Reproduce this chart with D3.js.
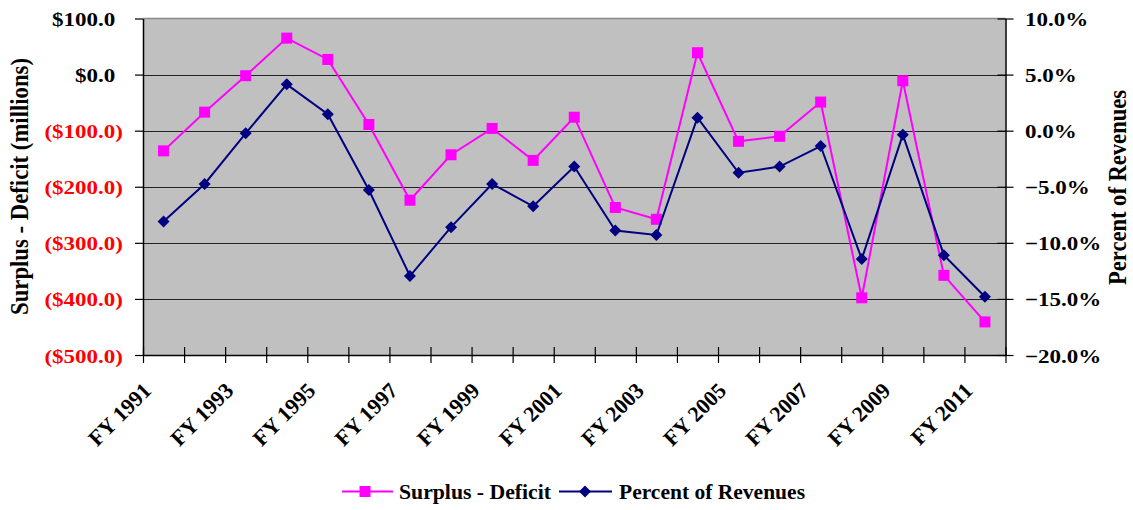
<!DOCTYPE html>
<html>
<head>
<meta charset="utf-8">
<script src="https://cdn.jsdelivr.net/npm/d3@7"></script>
<style>
  body { margin: 0; background: #fff; }
  svg text { font-family: "Liberation Serif", "Times New Roman", serif; font-weight: bold; }
</style>
</head>
<body>
<svg id="chart" width="1133" height="510"></svg>
<script>
// fiscal years on the category axis
const categories = ["FY 1991","FY 1992","FY 1993","FY 1994","FY 1995","FY 1996","FY 1997",
  "FY 1998","FY 1999","FY 2000","FY 2001","FY 2002","FY 2003","FY 2004","FY 2005",
  "FY 2006","FY 2007","FY 2008","FY 2009","FY 2010","FY 2011"];

// surplus / deficit, $ millions (left axis)
const surplus = [-136, -67, -2, 65, 27, -89, -224, -143, -96, -153, -76, -237, -258, 39,
  -119, -110, -49, -398, -11, -358, -441];

// percent of revenues (right axis)
const pctRevenue = [-8.1, -4.75, -0.24, 4.13, 1.46, -5.29, -12.96, -8.6, -4.75, -6.74, -3.2,
  -8.9, -9.3, 1.16, -3.75, -3.2, -1.37, -11.44, -0.36, -11.1, -14.8];

const leftTicks = [100, 0, -100, -200, -300, -400, -500];
const rightTicks = [10, 5, 0, -5, -10, -15, -20];
const labelledCats = categories.filter((d, i) => i % 2 === 0);

const pink = "#FF00FF", navy = "#000080";
const plotL = 143, plotR = 1005.5, plotT = 18.5, plotB = 355;
const stretch = 1.18;

const svg = d3.select("#chart");

const x = d3.scaleBand().domain(categories).range([plotL, plotR]);
const xi = d3.scaleLinear().domain([0, categories.length]).range([plotL, plotR]);
const yL = d3.scaleLinear().domain([-500, 100]).range([plotB, plotT]);
const yR = d3.scaleLinear().domain([-20, 10]).range([plotB, plotT]);
const cx = d => x(d) + x.bandwidth() / 2;

// plot area
svg.append("rect")
  .attr("x", plotL).attr("y", plotT)
  .attr("width", plotR - plotL).attr("height", plotB - plotT)
  .attr("fill", "#C0C0C0");

svg.append("g")
  .selectAll("line")
  .data(leftTicks.slice(1, -1))
  .join("line")
    .attr("x1", plotL).attr("x2", plotR)
    .attr("y1", d => Math.round(yL(d)) + 0.5).attr("y2", d => Math.round(yL(d)) + 0.5)
    .attr("stroke", "#222").attr("stroke-width", 1.2);

svg.append("line")
  .attr("x1", plotL).attr("x2", plotR).attr("y1", plotT).attr("y2", plotT)
  .attr("stroke", "#8a8a8a").attr("stroke-width", 1.5);

// left axis
const fmt = d3.format(".1f");
const gL = svg.append("g")
  .attr("transform", `translate(${plotL},0)`)
  .call(d3.axisLeft(yL).tickValues(leftTicks).tickSizeInner(8).tickSizeOuter(0).tickFormat(""));
gL.select(".domain").attr("stroke", "#000").attr("stroke-width", 1.5);
gL.selectAll(".tick line").attr("stroke", "#000").attr("stroke-width", 1.2);
gL.selectAll(".tick text")
  .attr("x", null).attr("dy", null)
  .attr("transform", `translate(-20,7) scale(${stretch},1)`)
  .attr("text-anchor", "end")
  .attr("font-size", 19.5)
  .attr("fill", d => d < 0 ? "#FF0000" : "#000")
  .each(function(d) {
    const t = d3.select(this);
    if (d < 0) {
      t.text("($" + fmt(-d) + ")");
    } else {
      t.text("$" + fmt(d));
      t.append("tspan").attr("fill-opacity", 0).text(")");
    }
  });

// right axis
const gR = svg.append("g")
  .attr("transform", `translate(${plotR},0)`)
  .call(d3.axisRight(yR).tickValues(rightTicks).tickSizeInner(8).tickSizeOuter(0)
    .tickFormat(d => fmt(d) + "%"));
gR.select(".domain").attr("stroke", "#000").attr("stroke-width", 1.5);
gR.selectAll(".tick line").attr("x1", -8).attr("stroke", "#000").attr("stroke-width", 1.2);
gR.selectAll(".tick text")
  .attr("x", null).attr("dy", null)
  .attr("transform", `translate(19.5,7) scale(${stretch},1)`)
  .attr("text-anchor", "start")
  .attr("font-size", 19.5)
  .attr("fill", "#000");

// category axis: ticks on band edges, labels every other year
const gX = svg.append("g")
  .attr("transform", `translate(0,${plotB})`)
  .call(d3.axisBottom(xi).tickValues(d3.range(categories.length + 1)).tickSizeInner(8).tickSizeOuter(0).tickFormat(""));
gX.select(".domain").attr("stroke", "#000").attr("stroke-width", 1.5);
gX.selectAll(".tick line").attr("y1", -8).attr("stroke", "#000").attr("stroke-width", 1.2);

const gXL = svg.append("g")
  .attr("transform", `translate(0,${plotB})`)
  .call(d3.axisBottom(x).tickValues(labelledCats).tickSize(0));
gXL.select(".domain").remove();
gXL.selectAll(".tick text")
  .attr("y", null).attr("dy", null)
  .attr("transform", "translate(-11,37) rotate(-45)")
  .attr("text-anchor", "end")
  .attr("font-size", 22)
  .attr("fill", "#000");

// axis titles
svg.append("text")
  .attr("transform", `translate(28,186.5) scale(${stretch},1) rotate(-90)`)
  .attr("text-anchor", "middle")
  .attr("font-size", 22)
  .attr("textLength", 257).attr("lengthAdjust", "spacingAndGlyphs")
  .text("Surplus - Deficit (millions)");

svg.append("text")
  .attr("transform", `translate(1126,187.5) scale(${stretch},1) rotate(-90)`)
  .attr("text-anchor", "middle")
  .attr("font-size", 22)
  .attr("textLength", 195).attr("lengthAdjust", "spacingAndGlyphs")
  .text("Percent of Revenues");

// series
const lineL = d3.line().x((d, i) => cx(categories[i])).y(d => yL(d));
const lineR = d3.line().x((d, i) => cx(categories[i])).y(d => yR(d));
const diamond = "M0,-6L6,0L0,6L-6,0Z";

svg.append("path").datum(surplus)
  .attr("d", lineL).attr("fill", "none").attr("stroke", pink).attr("stroke-width", 2);
svg.append("g").selectAll("rect")
  .data(surplus)
  .join("rect")
    .attr("x", (d, i) => cx(categories[i]) - 5.5)
    .attr("y", d => yL(d) - 5.5)
    .attr("width", 11).attr("height", 11)
    .attr("fill", pink);

svg.append("path").datum(pctRevenue)
  .attr("d", lineR).attr("fill", "none").attr("stroke", navy).attr("stroke-width", 2);
svg.append("g").selectAll("path")
  .data(pctRevenue)
  .join("path")
    .attr("transform", (d, i) => `translate(${cx(categories[i])},${yR(d)})`)
    .attr("d", diamond)
    .attr("fill", navy);

// legend
const legend = svg.append("g").attr("transform", "translate(0,491.5)");
legend.append("line").attr("x1", 342).attr("x2", 393).attr("stroke", pink).attr("stroke-width", 2);
legend.append("rect").attr("x", 359.5).attr("y", -5.5).attr("width", 11).attr("height", 11).attr("fill", pink);
legend.append("text").attr("x", 399).attr("y", 7).attr("font-size", 22)
  .attr("textLength", 152).attr("lengthAdjust", "spacingAndGlyphs")
  .text("Surplus - Deficit");
legend.append("line").attr("x1", 559).attr("x2", 612).attr("stroke", navy).attr("stroke-width", 2);
legend.append("path").attr("transform", "translate(585,0)").attr("d", diamond).attr("fill", navy);
legend.append("text").attr("x", 619).attr("y", 7).attr("font-size", 22)
  .attr("textLength", 186).attr("lengthAdjust", "spacingAndGlyphs")
  .text("Percent of Revenues");
</script>
</body>
</html>
